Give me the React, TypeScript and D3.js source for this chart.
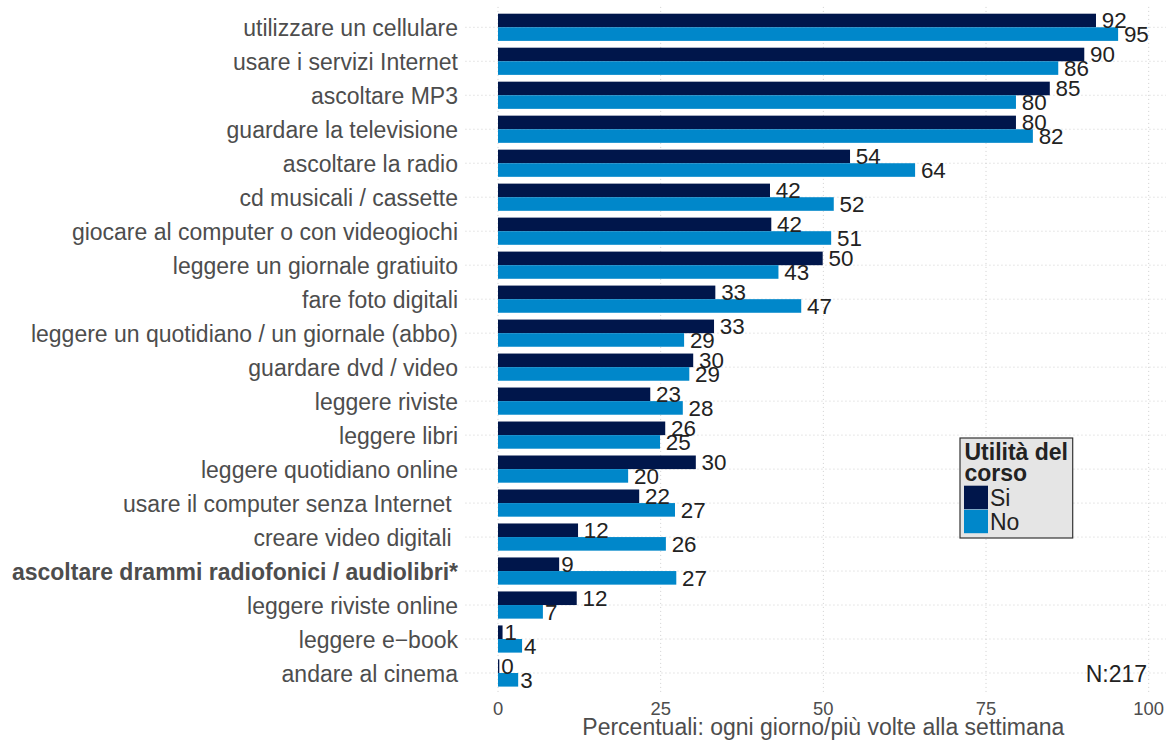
import React from "react";
import * as d3 from "d3";

const categories = [
  "utilizzare un cellulare",
  "usare i servizi Internet",
  "ascoltare MP3",
  "guardare la televisione",
  "ascoltare la radio",
  "cd musicali / cassette",
  "giocare al computer o con videogiochi",
  "leggere un giornale gratiuito",
  "fare foto digitali",
  "leggere un quotidiano / un giornale (abbo)",
  "guardare dvd / video",
  "leggere riviste",
  "leggere libri",
  "leggere quotidiano online",
  "usare il computer senza Internet ",
  "creare video digitali ",
  "ascoltare drammi radiofonici / audiolibri*",
  "leggere riviste online",
  "leggere e\u2212book",
  "andare al cinema",
];
const boldCategories = ["ascoltare drammi radiofonici / audiolibri*"];
const siValues = [91.9, 90.1, 84.8, 79.6, 54.1, 41.8, 42.0, 49.9, 33.4, 33.2, 30.0, 23.4, 25.7, 30.4, 21.7, 12.3, 9.4, 12.1, 0.7, 0.2];
const noValues = [95.3, 86.1, 79.6, 82.2, 64.1, 51.6, 51.2, 43.1, 46.6, 28.6, 29.4, 28.4, 24.9, 20.0, 27.2, 25.8, 27.4, 6.9, 3.7, 3.1];
const seriesNames = ["Si", "No"];
const seriesColors = ["#00164b", "#0087ca"];
const xTicks = [0, 25, 50, 75, 100];
const legendTitle = ["Utilit\u00e0 del", "corso"];
const xTitle = "Percentuali: ogni giorno/pi\u00f9 volte alla settimana";
const noteText = "N:217";

const W = 1166;
const H = 740;
const FONT = "'Liberation Sans', Arial, Helvetica, sans-serif";

export default function App() {
  const x = d3.scaleLinear().domain([0, 100]).range([498, 1148.7]);
  const y = d3.scalePoint<string>().domain(categories).range([6.9, 693.4]).padding(0.6);
  const step = y.step();
  const barH = step * 0.4;
  const panelLeft = x(-5);
  const panelRight = x(105);
  const panelTop = 6.9;
  const panelBottom = 693.4;
  const series = [siValues, noValues];

  const labelOffset = (s: string) => (s.length === 1 ? 2 : 5.8);

  return (
    <svg width={W} height={H} style={{ position: "absolute", left: 0, top: 0, display: "block" }} fontFamily={FONT}>
      <rect x={0} y={0} width={W} height={H} fill="#ffffff" />
      {/* grid */}
      {categories.map((c) => (
        <line key={"hg" + c} x1={panelLeft} x2={panelRight} y1={y(c)!} y2={y(c)!} stroke="#cfcfcf" strokeWidth={1} strokeDasharray="1,3" />
      ))}
      {xTicks.map((t) => (
        <line key={"vg" + t} x1={x(t)} x2={x(t)} y1={panelTop} y2={panelBottom} stroke="#cfcfcf" strokeWidth={1} strokeDasharray="1,3" />
      ))}
      {/* bars */}
      {series.map((vals, si) =>
        categories.map((c, i) => {
          const top = y(c)! - barH + si * barH;
          return (
            <rect key={"b" + si + "-" + i} x={x(0)} y={top} width={Math.max(0, x(vals[i]) - x(0))} height={barH} fill={seriesColors[si]} />
          );
        })
      )}
      {/* value labels */}
      {series.map((vals, si) =>
        categories.map((c, i) => {
          const lbl = String(Math.round(vals[i]));
          const cy = y(c)! - barH / 2 + si * barH;
          return (
            <text key={"l" + si + "-" + i} x={x(vals[i]) + labelOffset(lbl)} y={cy + 7.8} fontSize={22.4} fill="#222222">
              {lbl}
            </text>
          );
        })
      )}
      {/* category labels */}
      {categories.map((c) => (
        <text
          key={"c" + c}
          x={458}
          y={y(c)! + 9}
          textAnchor="end"
          fontSize={23}
          fill="#4d4d4d"
          fontWeight={boldCategories.includes(c) ? "bold" : "normal"}
          style={{ whiteSpace: "pre" }}
        >
          {c}
        </text>
      ))}
      {/* x tick labels */}
      {xTicks.map((t) => (
        <text key={"xt" + t} x={x(t)} y={715} textAnchor="middle" fontSize={18.4} fill="#4d4d4d">
          {t}
        </text>
      ))}
      <text x={x(50)} y={735} textAnchor="middle" fontSize={23} fill="#4d4d4d">
        {xTitle}
      </text>
      <text x={1147} y={681.7} textAnchor="end" fontSize={23} fill="#222222">
        {noteText}
      </text>
      {/* legend */}
      <g>
        <rect x={960} y={438} width={112.7} height={100} fill="#e5e5e5" stroke="#333333" strokeWidth={1.2} />
        {legendTitle.map((t, i) => (
          <text key={"lt" + i} x={964.5} y={460 + i * 20.8} fontSize={23} fontWeight="bold" fill="#222222">
            {t}
          </text>
        ))}
        {seriesNames.map((n, i) => (
          <g key={"lk" + n}>
            <rect x={964} y={485.7 + i * 24} width={24} height={23.5} fill={seriesColors[i]} />
            <text x={990} y={506 + i * 24} fontSize={23} fill="#222222">
              {n}
            </text>
          </g>
        ))}
      </g>
    </svg>
  );
}
